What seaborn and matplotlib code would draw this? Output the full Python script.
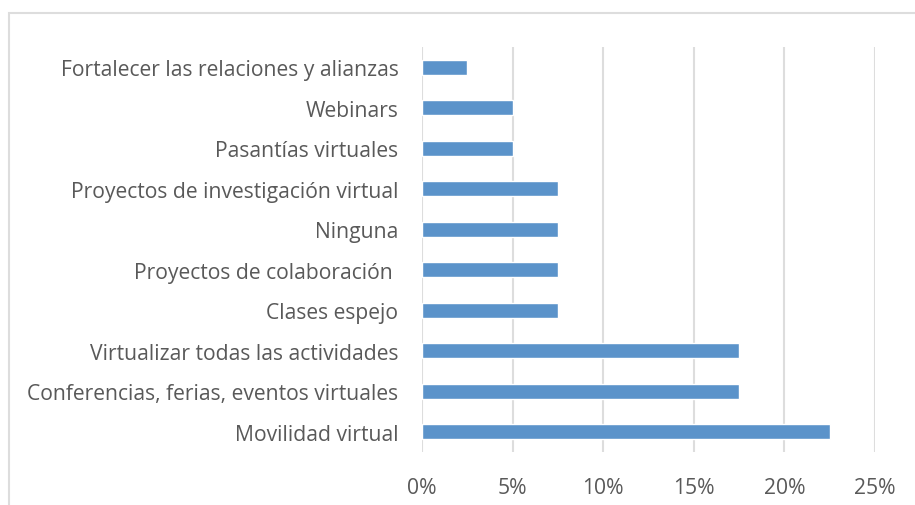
import matplotlib
matplotlib.use("Agg")
import matplotlib.pyplot as plt
import seaborn as sns
import pandas as pd
from matplotlib.patches import Rectangle

categories = [
    "Fortalecer las relaciones y alianzas",
    "Webinars",
    "Pasantías virtuales",
    "Proyectos de investigación virtual",
    "Ninguna",
    "Proyectos de colaboración ",
    "Clases espejo",
    "Virtualizar todas las actividades",
    "Conferencias, ferias, eventos virtuales",
    "Movilidad virtual",
]
values = [2.5, 5, 5, 7.5, 7.5, 7.5, 7.5, 17.5, 17.5, 22.5]
xticks = [0, 5, 10, 15, 20, 25]
xtick_labels = ["0%", "5%", "10%", "15%", "20%", "25%"]

df = pd.DataFrame({"cat": categories, "val": values})

sns.set_style("white")
plt.rcParams["font.family"] = ["Open Sans", "DejaVu Sans"]

fig = plt.figure(figsize=(9.15, 5.06), dpi=100)
ax = fig.add_axes([422 / 915, 1 - 453 / 506, (875 - 422) / 915, (453 - 48) / 506])

sns.barplot(data=df, x="val", y="cat", color="#5B93CA", width=0.36,
            saturation=1, ax=ax, orient="h", zorder=3)

ax.set_xlim(0, 25)
ax.set_ylim(9.5, -0.5)
ax.set_xticks(xticks)
ax.set_xticklabels(xtick_labels)
ax.set_xlabel("")
ax.set_ylabel("")
for x in xticks:
    ax.axvline(x, color="#DDDDDD", lw=1.5, zorder=1)
for s in ax.spines.values():
    s.set_visible(False)
ax.tick_params(axis="both", length=0, colors="#595959", labelsize=15.2)
ax.tick_params(axis="y", pad=17)
ax.tick_params(axis="x", pad=18)

fig.patches.append(Rectangle((9 / 915, -0.2), 1.2, 1 - 14 / 506 + 0.2,
                             transform=fig.transFigure, fill=False,
                             edgecolor="#DDDDDD", lw=1.5, zorder=0))

fig.savefig("out.png", dpi=100)
